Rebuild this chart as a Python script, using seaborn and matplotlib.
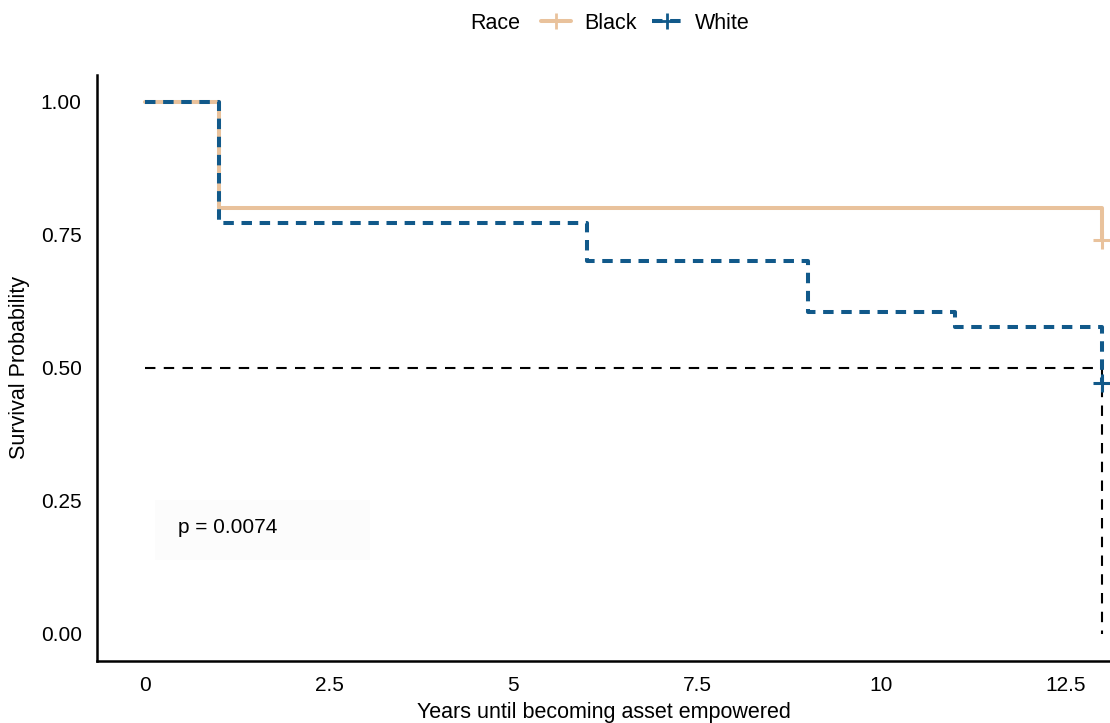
import matplotlib
matplotlib.use("Agg")
import matplotlib.pyplot as plt
from matplotlib.lines import Line2D
from matplotlib.patches import Rectangle
import seaborn as sns
import pandas as pd

# Kaplan-Meier step estimates by race
race_levels = ["Black", "White"]
times_black = [0, 1, 13]
surv_black = [1.00, 0.80, 0.74]
times_white = [0, 1, 6, 9, 11, 13]
surv_white = [1.00, 0.772, 0.701, 0.605, 0.577, 0.472]

# censored observations (time, survival)
censor_black = (13, 0.74)
censor_white = (13, 0.472)

median_surv = 0.5
median_time = 13
p_value_text = "p = 0.0074"

x_ticks = [0, 2.5, 5, 7.5, 10, 12.5]
x_tick_labels = ["0", "2.5", "5", "7.5", "10", "12.5"]
y_ticks = [0.00, 0.25, 0.50, 0.75, 1.00]
y_tick_labels = ["0.00", "0.25", "0.50", "0.75", "1.00"]

colors = {"Black": "#E9C29C", "White": "#11598A"}

sns.set_theme(style="white")
plt.rcParams["font.family"] = ["Liberation Sans", "DejaVu Sans"]
plt.rcParams["text.color"] = "black"
plt.rcParams["axes.labelcolor"] = "black"

df = pd.concat([
    pd.DataFrame({"time": times_black, "surv": surv_black, "Race": "Black"}),
    pd.DataFrame({"time": times_white, "surv": surv_white, "Race": "White"}),
], ignore_index=True)

fig = plt.figure(figsize=(11.10, 7.23), dpi=100)
ax = fig.add_axes([0.0874, 0.0863, 0.9486, 0.81])

# median survival reference lines
ax.plot([0, median_time], [median_surv, median_surv], color="black",
        lw=1.5, dashes=(5, 4), zorder=1)
ax.plot([median_time, median_time], [median_surv, 0], color="black",
        lw=1.5, dashes=(5, 4), zorder=1)

sns.lineplot(data=df[df["Race"] == "Black"], x="time", y="surv",
             drawstyle="steps-post", estimator=None, sort=False,
             color=colors["Black"], lw=2.9, ax=ax, legend=False, zorder=2)
sns.lineplot(data=df[df["Race"] == "White"], x="time", y="surv",
             drawstyle="steps-post", estimator=None, sort=False,
             color=colors["White"], lw=2.9, ax=ax, legend=False, zorder=3)
ax.lines[-1].set_dashes((2.6, 1.9))

ax.scatter([censor_black[0]], [censor_black[1]], marker="+", s=160,
           color=colors["Black"], linewidths=2.2, zorder=4)
ax.scatter([censor_white[0]], [censor_white[1]], marker="+", s=160,
           color=colors["White"], linewidths=2.2, zorder=4)

# p-value annotation on a faint panel
ax.add_patch(Rectangle((0.14, 0.139), 2.92, 0.113, facecolor="#fcfcfc",
                       edgecolor="none", zorder=0))
ax.text(0.45, 0.2, p_value_text, fontsize=15, va="center", ha="left")

ax.set_xlim(-0.65, 13.65)
ax.set_ylim(-0.05, 1.05)
ax.set_xticks(x_ticks)
ax.set_xticklabels(x_tick_labels)
ax.set_yticks(y_ticks)
ax.set_yticklabels(y_tick_labels)
ax.tick_params(axis="both", direction="out", length=6, width=1.5,
               color="black", labelsize=15, labelcolor="black", pad=5)

for side in ["top", "right"]:
    ax.spines[side].set_visible(False)
for side in ["left", "bottom"]:
    ax.spines[side].set_color("black")
    ax.spines[side].set_linewidth(1.8)

ax.set_xlabel("Years until becoming asset empowered", fontsize=15.5)
ax.set_ylabel("Survival Probability", fontsize=15.5)
ax.xaxis.set_label_coords(0.4815, -0.071)
ax.yaxis.set_label_coords(-0.064, 0.5)

# legend across the top
handles = [
    Line2D([], [], color=colors[r], lw=2.9, marker="+", markersize=12,
           markeredgewidth=2, **({"dashes": (2.6, 1.9)} if r == "White" else {}))
    for r in race_levels
]
fig.text(0.4235, 0.968, "Race", fontsize=15.5, ha="left", va="center")
leg = fig.legend(handles, race_levels, loc="center left",
                 bbox_to_anchor=(0.478, 0.968), ncol=2, frameon=False,
                 fontsize=15.5, handlelength=1.4, columnspacing=0.7,
                 handletextpad=0.6, borderpad=0.0)

fig.savefig("out.png", dpi=100, facecolor="white")
